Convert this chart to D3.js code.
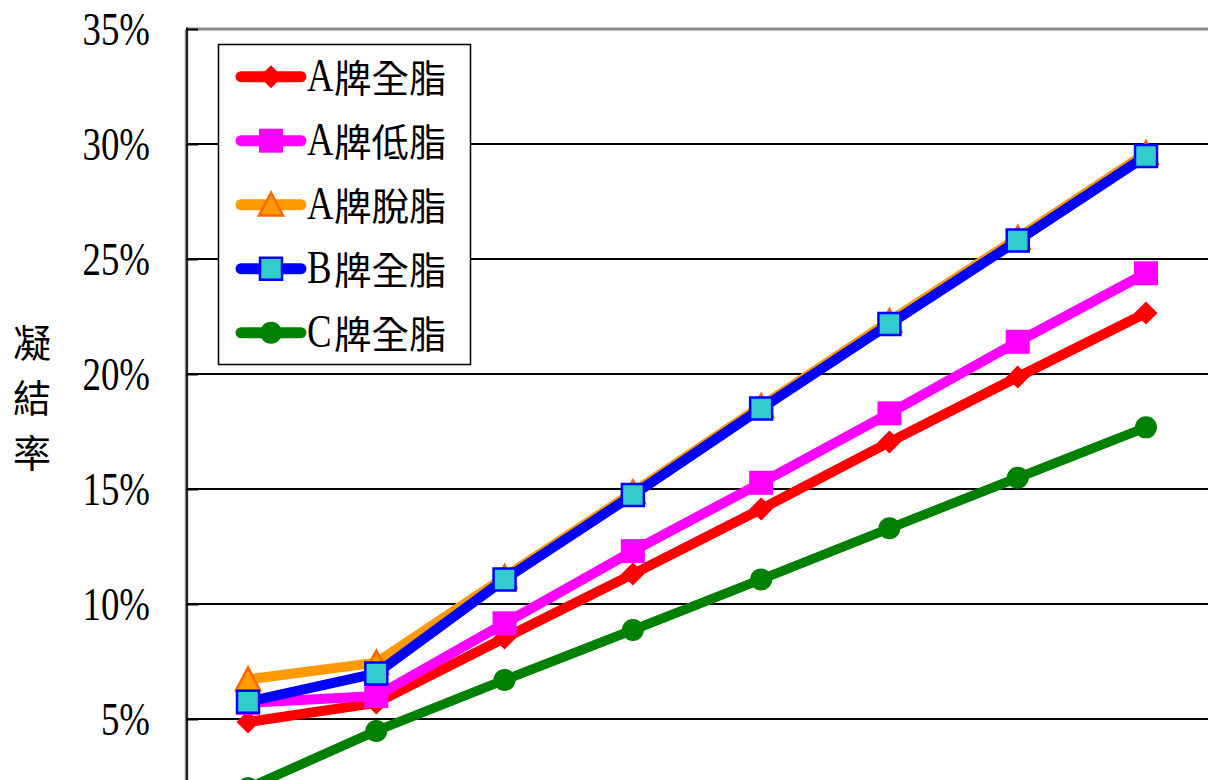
<!DOCTYPE html>
<html>
<head>
<meta charset="utf-8">
<script src="https://cdn.jsdelivr.net/npm/d3@7"></script>
<style>
  html, body { margin: 0; padding: 0; background: #fff; overflow: hidden; }
  svg { display: block; }
</style>
</head>
<body>
<svg id="chart" width="1208" height="780"></svg>
<script>
// Sampling points along the horizontal axis
const categories = ["1", "2", "3", "4", "5", "6", "7", "8"];

// Coagulation rate (%) per product
const seriesNames = ["A牌全脂", "A牌低脂", "A牌脫脂", "B牌全脂", "C牌全脂"];
const aWhole = [4.87, 5.7, 8.52, 11.3, 14.13, 17.04, 19.87, 22.65];
const aLowFat = [5.7, 6.0, 9.16, 12.3, 15.27, 18.29, 21.4, 24.38];
const aSkim = [6.72, 7.45, 11.17, 14.85, 18.6, 22.3, 25.92, 29.6];
const bWhole = [5.75, 6.98, 11.07, 14.74, 18.5, 22.17, 25.8, 29.48];
const cWhole = [2.0, 4.48, 6.7, 8.87, 11.07, 13.29, 15.49, 17.68];

const yTicks = [5, 10, 15, 20, 25, 30, 35];
const yTitle = ["凝", "結", "率"];

const seriesValues = [aWhole, aLowFat, aSkim, bWhole, cWhole];
const styles = [
  { line: "#FF0000", marker: "diamond", fill: "#FF0000", stroke: "none", size: 11.5 },
  { line: "#FF00FF", marker: "square", fill: "#FF00FF", stroke: "none", size: 12 },
  { line: "#FF9900", marker: "triangle", fill: "#FF9900", stroke: "#FF6600", size: 12 },
  { line: "#0000FF", marker: "square", fill: "#33CCCC", stroke: "#0000FF", size: 11 },
  { line: "#008000", marker: "circle", fill: "#008000", stroke: "none", size: 11 }
];

const svg = d3.select("#chart");
const plotLeft = 186, plotRight = 1208;

const x = d3.scalePoint().domain(categories).range([248, 1146]);
const y = d3.scaleLinear().domain([0, 35]).range([834, 29]);

// Horizontal gridlines
svg.append("g").selectAll("line")
  .data(yTicks.filter(t => t < 35))
  .join("line")
  .attr("x1", plotLeft).attr("x2", plotRight)
  .attr("y1", d => y(d)).attr("y2", d => y(d))
  .attr("stroke", "#000").attr("stroke-width", 2);

// Top border of the plot area
svg.append("line")
  .attr("x1", plotLeft).attr("x2", plotRight)
  .attr("y1", y(35)).attr("y2", y(35))
  .attr("stroke", "#888").attr("stroke-width", 3);

// Left value axis with inward ticks
const yAxis = d3.axisLeft(y)
  .tickValues(yTicks)
  .tickSizeInner(-12)
  .tickSizeOuter(0)
  .tickFormat(d => d + "%");

const axisG = svg.append("g")
  .attr("transform", `translate(${plotLeft},0)`)
  .call(yAxis);
axisG.select(".domain").attr("stroke", "#888").attr("stroke-width", 3.5);
axisG.append("line")
  .attr("x1", 1).attr("x2", 1).attr("y1", y(35) - 1.5).attr("y2", 834)
  .attr("stroke", "#000").attr("stroke-width", 1.5);
axisG.selectAll(".tick line").attr("stroke", "#000").attr("stroke-width", 2);
axisG.selectAll(".tick text")
  .attr("x", 0).attr("y", 15).attr("dy", null)
  .attr("transform", "translate(-36,0) scale(0.8,1)")
  .attr("fill", "#000")
  .attr("font-family", "'Liberation Serif', 'Times New Roman', serif")
  .attr("font-size", 46);

// Vertical axis title
svg.append("g").selectAll("text")
  .data(yTitle)
  .join("text")
  .attr("x", 32)
  .attr("y", (d, i) => 340 + i * 55)
  .attr("text-anchor", "middle")
  .attr("dominant-baseline", "central")
  .attr("font-family", "'Noto Sans CJK TC', 'Noto Sans CJK SC', sans-serif")
  .attr("font-size", 38)
  .attr("fill", "#000")
  .text(d => d);

function markerPath(kind, s) {
  if (kind === "diamond") return `M0,${-s}L${s},0L0,${s}L${-s},0Z`;
  if (kind === "square") return `M${-s},${-s}H${s}V${s}H${-s}Z`;
  if (kind === "triangle") return `M0,${-s}L${s},${s * 0.9}L${-s},${s * 0.9}Z`;
  return d3.arc()({ innerRadius: 0, outerRadius: s, startAngle: 0, endAngle: 2 * Math.PI });
}

function drawMarker(g, st, cx, cy) {
  g.append("path")
    .attr("transform", `translate(${cx},${cy})`)
    .attr("d", markerPath(st.marker, st.size))
    .attr("fill", st.fill)
    .attr("stroke", st.stroke)
    .attr("stroke-width", st.stroke === "none" ? 0 : 2.5)
    .attr("stroke-linejoin", "miter");
}

// Series lines with markers
const line = d3.line()
  .x((d, i) => x(categories[i]))
  .y(d => y(d));

seriesValues.forEach((vals, si) => {
  const st = styles[si];
  const g = svg.append("g");
  g.append("path")
    .attr("d", line(vals))
    .attr("fill", "none")
    .attr("stroke", st.line)
    .attr("stroke-width", si === 4 ? 9.5 : 10)
    .attr("stroke-linejoin", "round");
  vals.forEach((v, i) => drawMarker(g, st, x(categories[i]), y(v)));
});

// Legend
const legend = svg.append("g");
legend.append("rect")
  .attr("x", 218.5).attr("y", 44.5)
  .attr("width", 252).attr("height", 320)
  .attr("fill", "#fff").attr("stroke", "#000").attr("stroke-width", 1.5);

seriesNames.forEach((name, i) => {
  const st = styles[i];
  const ry = 76.7 + i * 64;
  const row = legend.append("g");
  row.append("line")
    .attr("x1", 241).attr("x2", 301).attr("y1", ry).attr("y2", ry)
    .attr("stroke", st.line).attr("stroke-width", 11).attr("stroke-linecap", "round");
  drawMarker(row, st, 271, ry);
  row.append("text")
    .attr("transform", `translate(307,${ry + 14}) scale(0.8,1)`)
    .attr("font-family", "'Liberation Serif', 'Times New Roman', serif")
    .attr("font-size", 46)
    .attr("fill", "#000")
    .text(name.charAt(0));
  row.append("text")
    .attr("x", 334).attr("y", ry - 1)
    .attr("dominant-baseline", "central")
    .attr("font-family", "'Noto Sans CJK TC', 'Noto Sans CJK SC', sans-serif")
    .attr("font-size", 37.5)
    .attr("fill", "#000")
    .text(name.slice(1));
});
</script>
</body>
</html>
